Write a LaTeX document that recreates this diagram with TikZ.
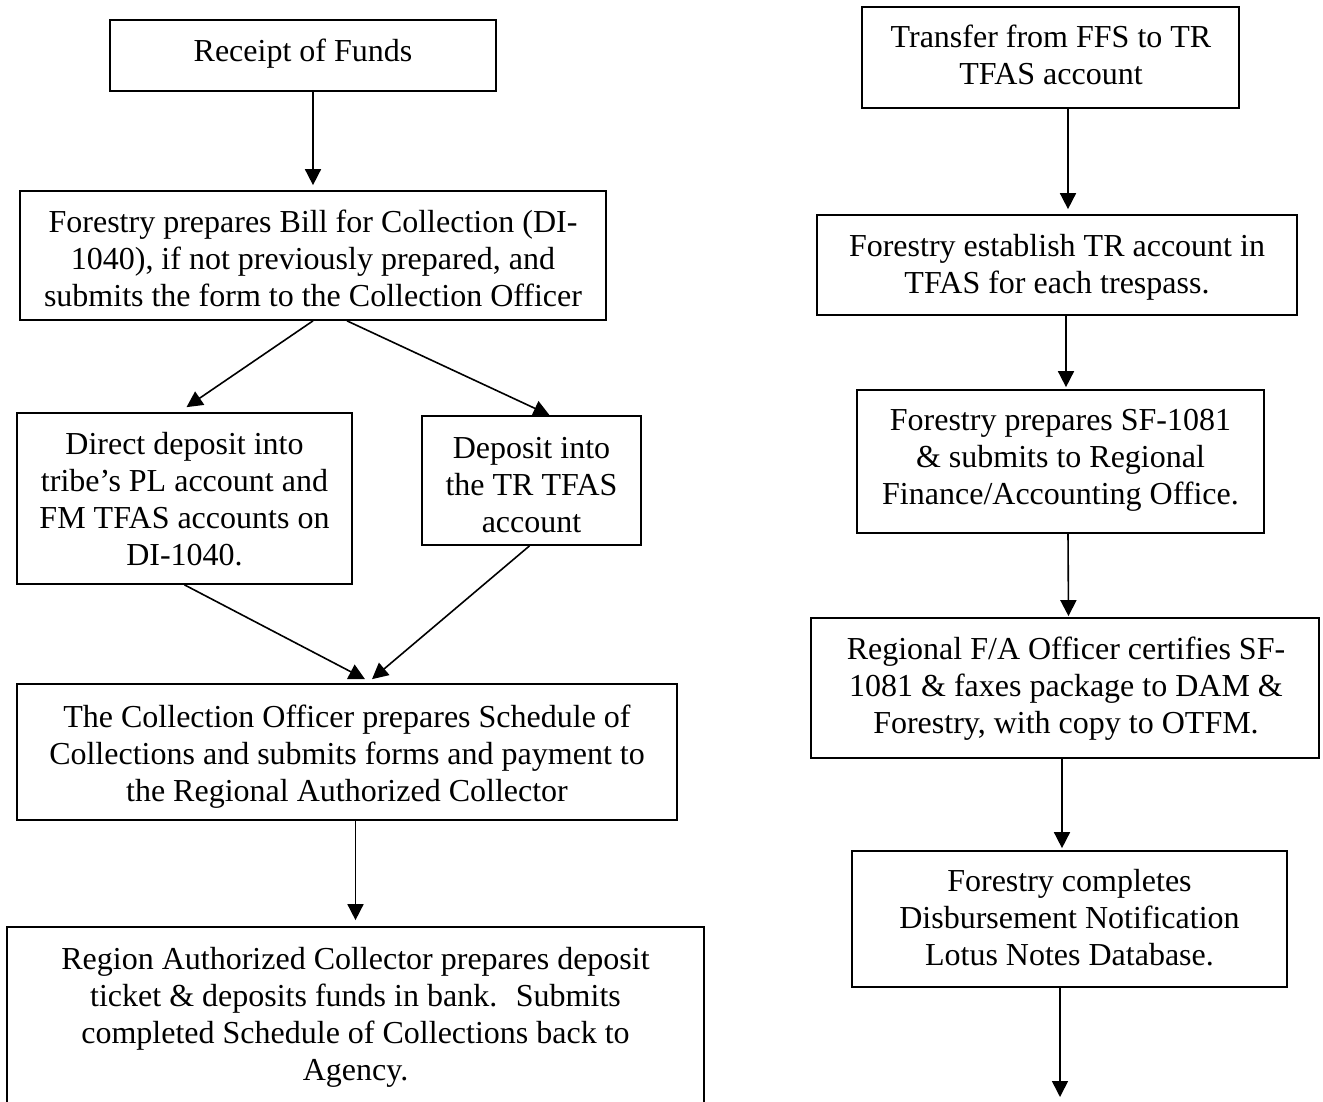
\documentclass[tikz,border=0pt]{standalone}
\usepackage{fontspec}
\setmainfont{Liberation Serif}
\usetikzlibrary{arrows.meta,calc}
\tikzset{
  box/.style={draw, line width=1.7pt, inner sep=0pt},
  txt/.style={align=center, inner sep=0pt, anchor=north, font=\fontsize{32}{37}\selectfont},
  arr/.style={line width=1.6pt, -{Triangle[length=16pt,width=16pt]}},
}
\begin{document}
\begin{tikzpicture}[x=1pt, y=-1pt]
\useasboundingbox (0,0) rectangle (1323,1101);
\clip (0,0) rectangle (1323,1101);
% left column
\node[box, minimum width=386pt, minimum height=71pt] (b1) at (303,55.5) {};
\node[txt] (t1) at (303,35.1) {\strut Receipt of Funds};
\node[box, minimum width=586pt, minimum height=129pt] (b2) at (313,255.5) {};
\node[txt] (t2) at (313,206.1) {\strut Forestry prepares Bill for Collection (DI-\\1040), if not previously prepared, and\\submits the form to the Collection Officer};
\node[box, minimum width=335pt, minimum height=171pt] (b3) at (184.5,498.5) {};
\node[txt] (t3) at (184.5,428.1) {\strut Direct deposit into\\tribe’s PL account and\\FM TFAS accounts on\\DI-1040.};
\node[box, minimum width=219pt, minimum height=129pt] (b4) at (531.5,480.5) {};
\node[txt] (t4) at (531.5,432.1) {\strut Deposit into\\the TR TFAS\\account};
\node[box, minimum width=660pt, minimum height=136pt] (b5) at (347,752) {};
\node[txt] (t5) at (347,701.1) {\strut The Collection Officer prepares Schedule of\\Collections and submits forms and payment to\\the Regional Authorized Collector};
\node[box, minimum width=697pt, minimum height=213pt] (b6) at (355.5,1033.5) {};
\node[txt] (t6) at (355.5,943.1) {\strut Region Authorized Collector prepares deposit\\ticket \& deposits funds in bank.~ Submits\\completed Schedule of Collections back to\\Agency.};
% right column
\node[box, minimum width=377pt, minimum height=101pt] (r1) at (1050.5,57.5) {};
\node[txt] (s1) at (1051,21.1) {\strut Transfer from FFS to TR\\TFAS account};
\node[box, minimum width=480pt, minimum height=100pt] (r2) at (1057,265) {};
\node[txt] (s2) at (1057,230.1) {\strut Forestry establish TR account in\\TFAS for each trespass.};
\node[box, minimum width=407pt, minimum height=143pt] (r3) at (1060.5,461.5) {};
\node[txt] (s3) at (1060.5,404.1) {\strut Forestry prepares SF-1081\\\& submits to Regional\\Finance/Accounting Office.};
\node[box, minimum width=508pt, minimum height=140pt] (r4) at (1065,688) {};
\node[txt] (s4) at (1066,633.1) {\strut Regional F/A Officer certifies SF-\\1081 \& faxes package to DAM \&\\Forestry, with copy to OTFM.};
\node[box, minimum width=435pt, minimum height=136pt] (r5) at (1069.5,919) {};
\node[txt] (s5) at (1069.5,865.1) {\strut Forestry completes\\Disbursement Notification\\Lotus Notes Database.};
\coordinate (rend) at (1060,1097);
% connectors left
\draw[arr] (b1.south -| b2.north) -- ($(b2.north)+(0,-5)$);
\draw[arr] (b2.south) -- ($(b3.north)+(2,-5)$);
\draw[arr] ($(b2.south)+(34,0)$) -- ($(b4.north)+(18,0)$);
\draw[arr] (b3.south) -- ($(b5.north)+(18,-4)$);
\draw[arr] ($(b4.south)+(-2,0)$) -- ($(b5.north)+(25,-4)$);
\draw[arr] (b5.south -| b6.north) -- ($(b6.north)+(0,-6)$);
% connectors right
\draw[arr] ($(r1.south)+(17.5,0)$) -- ($(r2.north)+(11,-5)$);
\draw[arr] ($(r2.south)+(9,0)$) -- ($(r3.north)+(5.5,-2)$);
\draw[arr] ($(r3.south)+(7.5,0)$) -- ($(r4.north)+(3.5,-1)$);
\draw[arr] ($(r4.south)+(-3,0)$) -- ($(r5.north)+(-7.5,-2)$);
\draw[arr] ($(r5.south)+(-9.5,0)$) -- (rend);
\end{tikzpicture}
\end{document}
